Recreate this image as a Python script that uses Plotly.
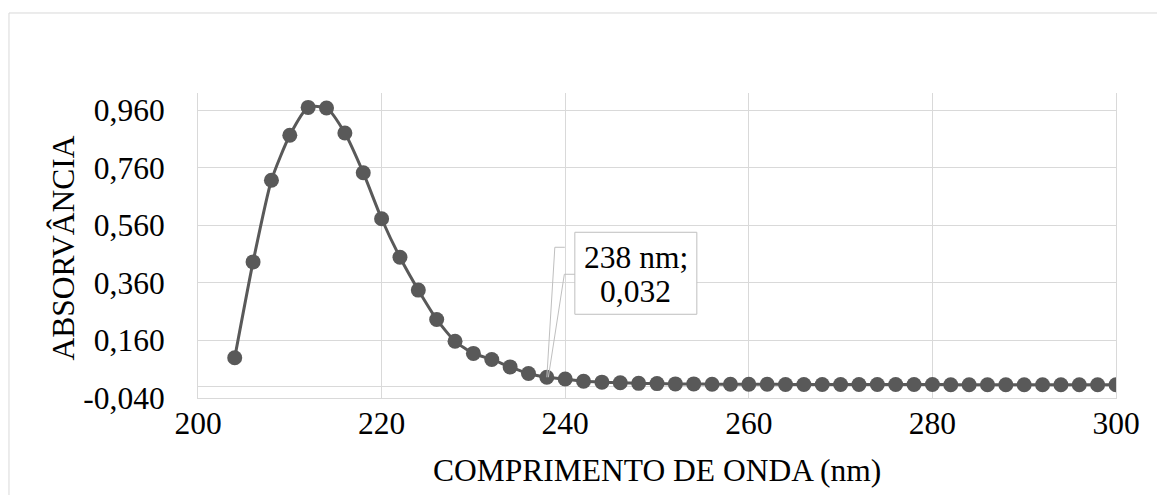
import plotly.graph_objects as go

# Absorbance spectrum (wavelength in nm)
wavelength = [204, 206, 208, 210, 212, 214, 216, 218, 220, 222, 224, 226, 228, 230,
              232, 234, 236, 238, 240, 242, 244, 246, 248, 250, 252, 254, 256, 258,
              260, 262, 264, 266, 268, 270, 272, 274, 276, 278, 280, 282, 284, 286,
              288, 290, 292, 294, 296, 298, 300]
absorbance = [0.100, 0.433, 0.717, 0.873, 0.970, 0.968, 0.881, 0.743, 0.583, 0.449,
              0.335, 0.233, 0.157, 0.115, 0.094, 0.068, 0.045, 0.032, 0.026, 0.018,
              0.015, 0.013, 0.011, 0.010, 0.009, 0.009, 0.008, 0.008, 0.008, 0.008,
              0.007, 0.007, 0.007, 0.007, 0.007, 0.007, 0.007, 0.007, 0.007, 0.006,
              0.006, 0.006, 0.006, 0.006, 0.006, 0.006, 0.006, 0.006, 0.006]

x_tick_vals = [200, 220, 240, 260, 280, 300]
x_tick_text = ["200", "220", "240", "260", "280", "300"]
y_tick_vals = [-0.04, 0.16, 0.36, 0.56, 0.76, 0.96]
y_tick_text = ["-0,040", "0,160", "0,360", "0,560", "0,760", "0,960"]

x_title = "COMPRIMENTO DE ONDA (nm)"
y_title = "ABSORVÂNCIA"

label_x = 238
label_y = absorbance[wavelength.index(label_x)]

FONT = "Liberation Serif, Times New Roman, serif"
FS = 31.5
GRID = "#d9d9d9"
SERIES = "#595959"

fig = go.Figure()
fig.add_trace(go.Scatter(
    x=wavelength, y=absorbance, mode="lines+markers",
    line=dict(color=SERIES, width=3, shape="spline", smoothing=0.6),
    marker=dict(color=SERIES, size=15),
    hoverinfo="skip", showlegend=False,
))

# data label box with elbow leader lines, offsets in pixels from the point
fig.add_shape(type="rect", xref="x", yref="y", xsizemode="pixel", ysizemode="pixel",
              xanchor=label_x, yanchor=label_y, x0=28, x1=150, y0=63, y1=145,
              line=dict(color="#bfbfbf", width=1), fillcolor="white", layer="above")
for path in ["M0,0 L8,130 L18,130", "M1.5,0 L17.5,103 L28,103"]:
    fig.add_shape(type="path", xref="x", yref="y", xsizemode="pixel", ysizemode="pixel",
                  xanchor=label_x, yanchor=label_y, path=path,
                  line=dict(color="#bfbfbf", width=1), layer="above")

label_lines = [f"{label_x} nm;", f"{label_y:.3f}".replace(".", ",")]
for txt, dy in zip(label_lines, [120, 86]):
    fig.add_annotation(x=label_x, y=label_y, xref="x", yref="y", text=txt,
                       showarrow=False, xshift=89, yshift=dy,
                       font=dict(family=FONT, size=FS, color="black"))

# axis titles
fig.add_annotation(x=0.5, y=-0.239, xref="paper", yref="paper", text=x_title,
                   showarrow=False, xanchor="center", yanchor="middle",
                   font=dict(family=FONT, size=FS, color="black"))
fig.add_annotation(x=-0.147, y=0.49, xref="paper", yref="paper", text=y_title,
                   showarrow=False, xanchor="center", yanchor="middle", textangle=-90,
                   font=dict(family=FONT, size=FS, color="black"))

# outer chart border
fig.add_shape(type="rect", xref="paper", yref="paper", x0=-0.2059, x1=1.2,
              y0=-0.5, y1=1.2623, line=dict(color=GRID, width=1), layer="below")

fig.update_layout(
    width=1157, height=495,
    margin=dict(l=198, r=41, t=93, b=97),
    paper_bgcolor="white", plot_bgcolor="white",
    font=dict(family=FONT, size=FS, color="black"),
    xaxis=dict(range=[200, 300], tickvals=x_tick_vals, ticktext=x_tick_text,
               showgrid=True, gridcolor=GRID, gridwidth=1, zeroline=False,
               showline=True, linecolor=GRID, linewidth=1,
               ticks="", ticklabelstandoff=-3, automargin=False),
    yaxis=dict(range=[-0.04, 1.02], tickvals=y_tick_vals, ticktext=y_tick_text,
               showgrid=True, gridcolor=GRID, gridwidth=1,
               zeroline=True, zerolinecolor=GRID, zerolinewidth=1,
               showline=True, linecolor=GRID, linewidth=1, mirror=True,
               ticks="", ticklabelstandoff=26, automargin=False),
)

fig.write_html("out.html")
